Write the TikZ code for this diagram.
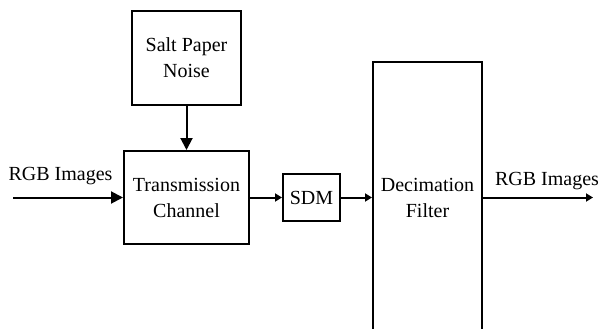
\documentclass[tikz,border=0pt]{standalone}
\usepackage{fontspec}
\setmainfont{Liberation Serif}
\usetikzlibrary{arrows.meta}

\tikzset{
  blockbox/.style = {draw, line width=2pt, align=center, inner sep=0pt,
    font=\rmfamily\fontsize{20}{26}\selectfont},
  bigarrow/.style = {line width=2pt, -{Triangle[length=12pt,width=12pt]}},
  smallarrow/.style = {line width=2pt, -{Triangle[length=7pt,width=8pt]}},
  sig/.style = {font=\rmfamily\fontsize{20}{26}\selectfont, anchor=base, inner sep=0pt}
}

\begin{document}
\begin{tikzpicture}[x=1pt,y=-1pt]
\useasboundingbox (0,0) rectangle (600,329);
% blocks
\node[blockbox, minimum width=109pt, minimum height=94pt] (salt) at (186.5,58) {Salt Paper\\Noise};
\node[blockbox, minimum width=125pt, minimum height=93pt] (chan) at (186.5,197.5) {Transmission\\Channel};
\node[blockbox, minimum width=57pt, minimum height=47pt] (sdm) at (311.5,197.5) {SDM};
\node[blockbox, minimum width=109pt, minimum height=270pt] (decim) at (427.5,197.5) {Decimation\\Filter};
% free ends
\coordinate (rgbin) at (13,197.5);
\coordinate (rgbout) at (593,197.5);
% signals
\draw[bigarrow] (salt) -- (chan);
\draw[bigarrow] (rgbin) -- (chan.west);
\draw[smallarrow] (chan) -- (sdm);
\draw[smallarrow] (sdm) -- (decim.west |- sdm);
\draw[smallarrow] (decim.east |- rgbout) -- (rgbout);
\node[sig] (inlabel) at (60.5,180) {RGB Images};
\node[sig] (outlabel) at (547,185) {RGB Images};
\end{tikzpicture}
\end{document}
